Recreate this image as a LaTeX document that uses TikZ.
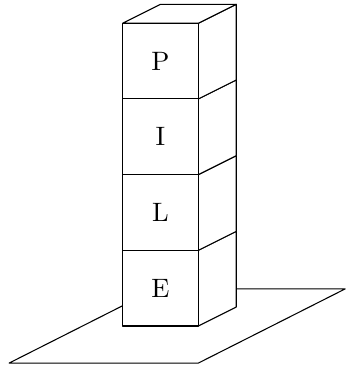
\documentclass[tikz,border=0pt]{standalone}
\usetikzlibrary{calc}
\begin{document}
\begin{tikzpicture}
      \tikzstyle{face} = [draw=black, fill=white, line join=round]
      \tikzstyle{letter} = [inner sep=0pt]
      \useasboundingbox (-1.621,-0.542) rectangle (2.950,4.307);

      % ground plane
      \draw[face] (-1.5,-0.49) -- (1,-0.49) -- (2.94,0.49) -- (0.44,0.49) -- cycle;

      % stacked cubes, bottom to top
      \foreach \l [count=\i from 0] in {E,L,I,P} {
        \draw[face] (1,\i) -- (1.5,\i+0.25) -- (1.5,\i+1.25) -- (1,\i+1) -- cycle;
        \draw[face] (0,\i) rectangle (1,\i+1);
        \node[letter] (c\i) at (0.5,\i+0.5) {\l};
      }

      % top face
      \draw[face] (0,4) -- (0.5,4.25) -- (1.5,4.25) -- (1,4) -- cycle;
\end{tikzpicture}
\end{document}
